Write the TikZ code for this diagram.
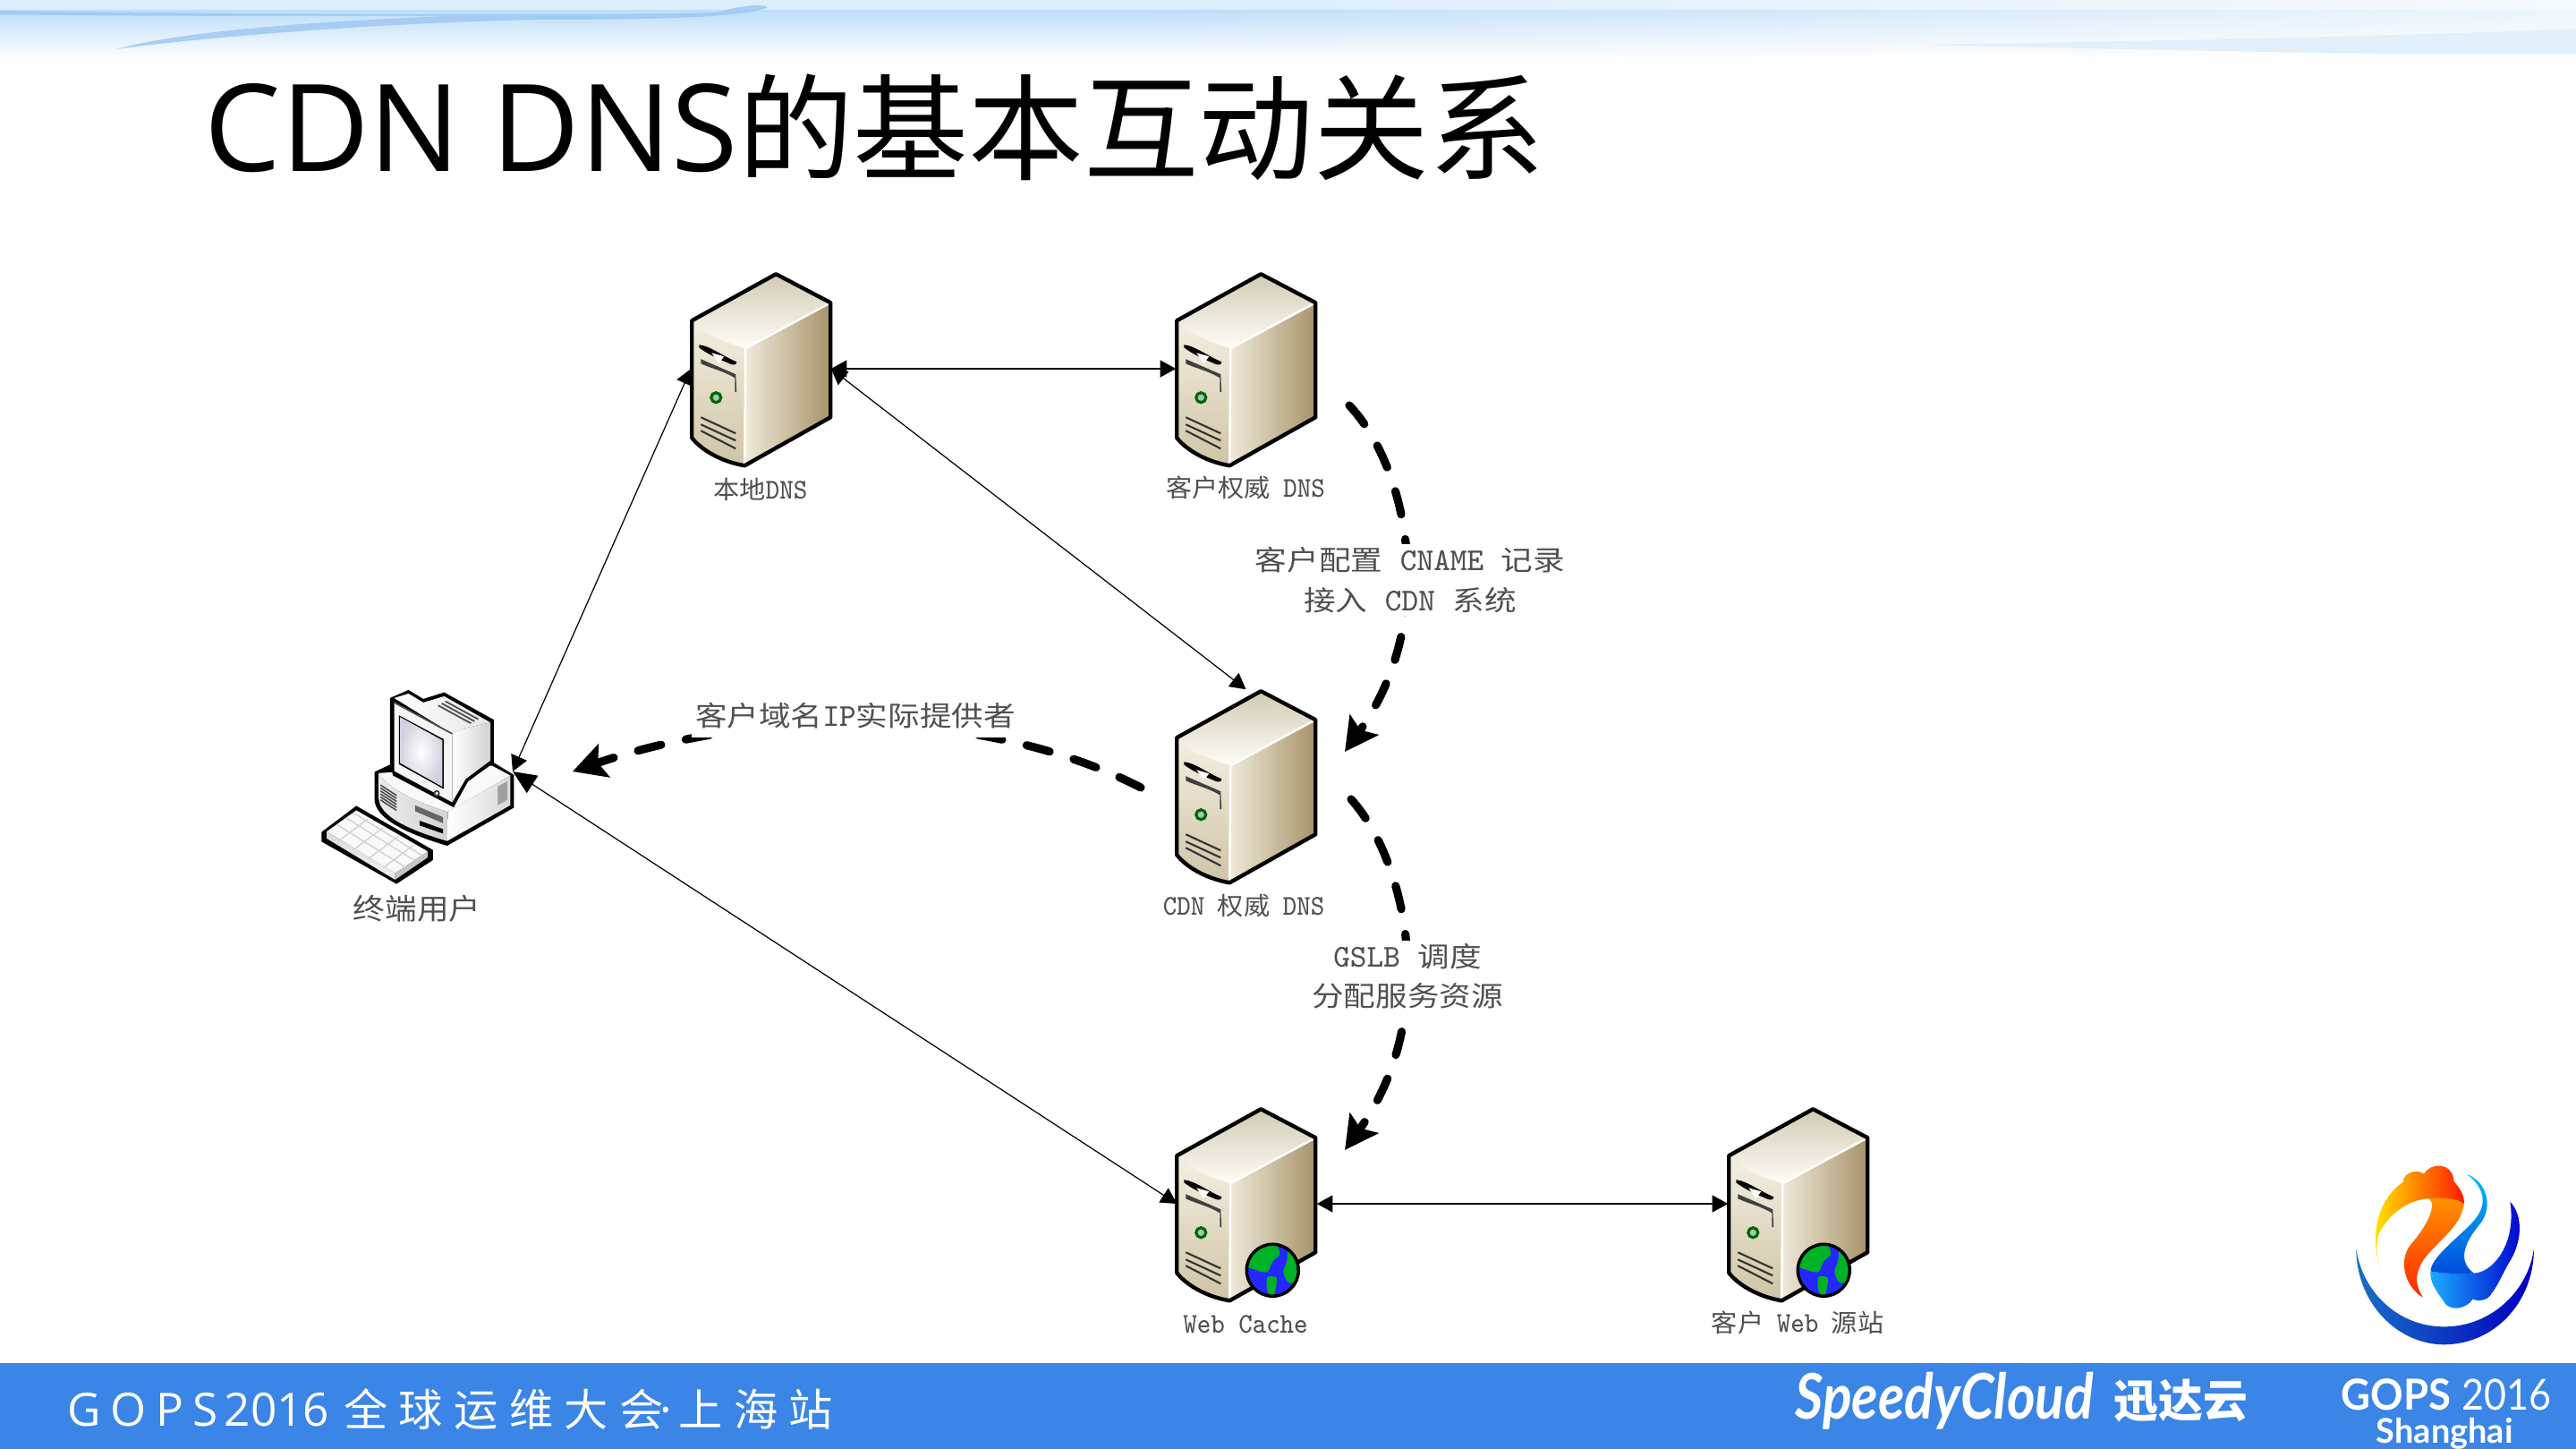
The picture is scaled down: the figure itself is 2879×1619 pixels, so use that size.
\documentclass[tikz,border=0pt]{standalone}
\usepackage{fontspec}
\usetikzlibrary{arrows.meta,shadings,positioning,fadings}
\newfontfamily\cjk{Noto Sans CJK SC}
\newfontfamily\titlelat{Open Sans}
\newfontfamily\latoit{Lato}
\newcommand{\latn}[1]{\scalebox{1}[1.15]{\ttfamily #1}}
\definecolor{footblue}{HTML}{3A85E6}
\definecolor{lbl}{HTML}{505050}
\definecolor{hdrtop}{HTML}{BFDEF9}
\definecolor{hdrstreak}{HTML}{9CC6F2}
\definecolor{hdrwedge}{HTML}{E2F0FB}
\definecolor{topa}{HTML}{FFFDF6}
\definecolor{topb}{HTML}{D2CAB4}
\definecolor{sidea}{HTML}{F0EADA}
\definecolor{sideb}{HTML}{D8CCAF}
\definecolor{sidec}{HTML}{A8936A}
\definecolor{fronta}{HTML}{F4EFE1}
\definecolor{frontb}{HTML}{CFC4A6}
\definecolor{ledc}{HTML}{9FC9B0}
\tikzset{
  srvbox/.style={inner sep=0pt,minimum width=1.55cm,minimum height=2.14cm},
  usrbox/.style={inner sep=0pt,minimum width=2.13cm,minimum height=2.15cm},
  smalllbl/.style={text=lbl,font=\cjk\fontsize{7.9pt}{9pt}\selectfont,inner sep=0pt,xscale=1.05,transform shape},
  biglbl/.style={text=lbl,font=\cjk\fontsize{8.8pt}{12.6pt}\selectfont,align=center,inner xsep=0pt,inner ysep=1pt,xscale=1.15,transform shape},
  thinarrow/.style={draw=black,line width=0.35pt,{Triangle[length=5pt,width=5.4pt]}-{Triangle[length=5pt,width=5.4pt]}},
  userarrow/.style={draw=black,line width=0.35pt,{Triangle[length=7.5pt,width=6.5pt]}-{Triangle[length=5pt,width=5.4pt]}},
  dasharrow/.style={draw=black,line width=2.6pt,line cap=round,dash pattern=on 7.6pt off 8pt,-{Stealth[length=10.5pt,width=11pt,inset=2pt]}},
  srvout/.style={draw=black,line width=1.25pt,line join=round},
  srvpic/.pic={
    \shade[shading angle=45,top color=topb,bottom color=topa] (0,52) -- (94,0) -- (155,32) -- (60,83) .. controls (35,76) and (12,66) .. (0,52) -- cycle;
    \shade[left color=sidea,middle color=sideb,right color=sidec] (60,83) -- (155,32) -- (155,160) -- (59,214) -- cycle;
    \shade[top color=fronta,bottom color=frontb] (0,52) .. controls (12,66) and (35,76) .. (60,83) -- (59,214) .. controls (35,210) and (12,198) .. (0,183) -- cycle;
    \draw[white,line width=0.7pt] (60,83) -- (155,32) (60,83) -- (59,214);
    \draw[srvout] (0,52) -- (94,0) -- (155,32) -- (155,160) -- (59,214) .. controls (35,210) and (12,198) .. (0,183) -- cycle;
    \fill[black] (8,79) .. controls (20,80) and (35,92) .. (50,98) .. controls (50,102) and (46,102) .. (42,100) .. controls (30,95) and (15,88) .. (8,82) -- cycle;
    \fill[white] (22,88) -- (36,92) -- (30,100) -- cycle;
    \fill[black!75] (10,95) -- (49,112) -- (50,132) -- (48,132) -- (48,116) .. controls (35,108) and (20,105) .. (10,100) -- cycle;
    \draw[black!60!green,line width=0.9pt,fill=ledc] (27,138) circle (5.5);
    \draw[black!80,line width=0.6pt] (10,160) -- (49,178) (10,168) -- (49,186) (10,175) -- (49,195);
  },
  globepic/.pic={
    \fill[blue!85!white] (0,0) circle (29);
    \begin{scope}
      \clip (0,0) circle (29);
      \fill[green!65!black!85!cyan] plot[smooth cycle] coordinates {(-29,-6) (-18,-26) (2,-30) (8,-18) (0,-10) (-6,2) (-18,0)};
      \fill[green!65!black!85!cyan] plot[smooth cycle] coordinates {(18,-24) (30,-10) (28,10) (18,14) (12,2) (16,-10)};
      \fill[green!65!black!85!cyan] plot[smooth cycle] coordinates {(-6,8) (4,8) (4,18) (0,30) (-6,22)};
    \end{scope}
    \draw[black,line width=1pt] (0,0) circle (29);
  },
  usrpic/.pic={
    % base
    \fill[black] (236,368) -- (300,338) -- (630,333) -- (704,378) -- (704,488) -- (480,616) .. controls (350,577) and (238,527) .. (236,460) -- cycle;
    \fill[white!95!gray] (250,372) -- (630,347) -- (692,380) -- (482,502) .. controls (380,470) and (290,430) .. (250,372) -- cycle;
    \shade[left color=white!85!gray,right color=white!65!gray] (250,372) .. controls (290,430) and (380,470) .. (482,502) -- (480,600) .. controls (360,565) and (252,520) .. (250,455) -- cycle;
    \shade[left color=white,right color=white!70!gray] (482,502) -- (692,380) -- (692,480) -- (480,600) -- cycle;
    \fill[gray!75] (650,417) -- (682,400) -- (682,462) -- (650,480) -- cycle;
    \draw[black!70,line width=0.45pt] (256,412) -- (310,447) (256,422) -- (310,457) (256,432) -- (310,467) (256,442) -- (310,477) (256,452) -- (310,487) (256,462) -- (310,497);
    \fill[black!60] (372,480) -- (466,520) -- (466,540) -- (372,500) -- cycle;
    \fill[black] (388,532) -- (466,560) -- (466,575) -- (388,548) -- cycle;
    % monitor
    \fill[black] (288,120) -- (350,93) -- (400,123) -- (470,101) -- (637,193) -- (637,337) -- (550,400) -- (502,487) -- (298,380) -- (288,340) -- cycle;
    \shade[left color=white,right color=white!80!gray] (302,120) -- (350,105) -- (400,135) -- (470,114) -- (625,202) -- (535,222) -- (497,240) -- cycle;
    \shade[left color=white,right color=white!65!gray] (497,240) -- (535,222) -- (625,202) -- (625,330) -- (542,392) -- (497,470) -- cycle;
    \fill[white!92!gray] (302,135) -- (497,240) -- (497,470) -- (302,365) -- cycle;
    \draw[black!70,line width=0.5pt] (302,135) -- (497,240);
    \fill[black] (318,178) -- (468,258) -- (468,425) -- (318,342) -- cycle;
    \shade[inner color=white,outer color=blue!18!gray!30] (322,184) -- (464,262) -- (464,418) -- (322,338) -- cycle;
    \draw[black!70,line width=0.5pt] (450,145) -- (560,205) (462,138) -- (572,198) (474,131) -- (584,191);
    \draw[black!75,line width=0.5pt,fill=white!85!gray] (445,440) circle (8);
    % keyboard
    \fill[black] (58,570) -- (175,482) -- (432,630) -- (432,664) -- (310,744) -- (58,602) -- cycle;
    \fill[white!95!gray] (76,568) -- (175,497) -- (415,635) -- (305,708) -- cycle;
    \shade[top color=white!70!gray,bottom color=white!90!gray] (76,568) -- (305,708) -- (305,730) -- (76,592) -- cycle;
    \fill[gray!45] (305,708) -- (415,635) -- (415,655) -- (305,730) -- cycle;
    \draw[gray!35,line width=0.4pt] (110,545) -- (340,688) (140,522) -- (370,665) (165,505) -- (395,648)
      (115,600) -- (215,525) (165,630) -- (265,555) (215,660) -- (315,585) (265,690) -- (365,615);
  }
}
\begin{document}
\begin{tikzpicture}[x=0.01cm,y=-0.01cm]
\useasboundingbox (0,0) rectangle (2879,1619);
\fill[white] (0,0) rectangle (2879,1619);
% header band
\fill[hdrtop!55!white] (0,0) rectangle (2879,12);
\shade[top color=hdrtop,bottom color=white] (0,12) rectangle (2879,66);
\fill[white,path fading=west,opacity=0.75] (1250,0) rectangle (2879,68);
\fill[hdrstreak,opacity=0.8] (0,12) .. controls (300,16) and (650,18) .. (800,14) .. controls (830,6) and (850,4) .. (858,8) .. controls (840,18) and (760,22) .. (600,22) .. controls (400,26) and (200,45) .. (130,55) .. controls (200,35) and (350,24) .. (500,18) .. controls (300,18) and (100,18) .. (0,16) -- cycle;
\fill[hdrwedge] (2150,50) .. controls (2400,46) and (2700,40) .. (2879,32) -- (2879,60) .. controls (2700,62) and (2500,58) .. (2150,50) -- cycle;
% title
\node[anchor=base west,inner sep=0pt] (title) at (228,192) {\fontsize{38.5pt}{40pt}\selectfont\titlelat CDN DNS\cjk\fontsize{36.6pt}{40pt}\selectfont 的基本互动关系};
% footer
\fill[footblue] (0,1523) rectangle (2879,1619);
\node[anchor=base west,inner sep=0pt,text=white,font=\titlelat\fontsize{14.6pt}{16pt}\selectfont] (ftxt) at (75,1593) {G\hspace{3pt}O\hspace{3pt}P\hspace{3pt}S\hspace{2pt}2016\hspace{4.6pt}{\cjk\fontsize{14pt}{16pt}\selectfont\addfontfeature{LetterSpace=25}全球运维大会}\hspace{-1pt}·\hspace{2pt}{\cjk\fontsize{14pt}{16pt}\selectfont\addfontfeature{LetterSpace=25}上海站}};
\node[anchor=base west,inner sep=0pt,text=white,font=\latoit\bfseries\itshape\fontsize{20pt}{22pt}\selectfont,xscale=0.86,transform shape] (speedy) at (2006,1585) {SpeedyCloud};
\node[anchor=base west,inner sep=0pt,text=white,font=\cjk\bfseries\fontsize{14.2pt}{16pt}\selectfont] (xunda) at (2362,1583) {迅达云};
\node[anchor=base west,inner sep=0pt,text=white,font=\latoit\bfseries\fontsize{13.6pt}{15pt}\selectfont,xscale=0.95,transform shape] (gops) at (2616,1575) {GOPS};
\node[anchor=base west,inner sep=0pt,text=white,font=\latoit\fontsize{13.6pt}{15pt}\selectfont,xscale=0.9,transform shape] (year) at (2751,1575) {2016};
\node[anchor=base west,inner sep=0pt,text=white,font=\latoit\bfseries\fontsize{10.8pt}{12pt}\selectfont] (shanghai) at (2655,1612) {Shanghai};
% logo
\begin{scope}[shift={(2600,1280)},x=0.003333cm,y=-0.003333cm]
  \shade[left color=blue!50!cyan!75!black!90,middle color=cyan!70!blue!90,right color=blue!75!black]
    (100,345) .. controls (100,530) and (240,668) .. (395,668) .. controls (560,668) and (697,530) .. (697,345)
    .. controls (680,480) and (560,608) .. (395,608) .. controls (240,608) and (120,490) .. (100,345) -- cycle;
  \shade[left color=yellow!85!orange,middle color=orange!90!yellow,right color=red!80!orange]
    (180,410) .. controls (150,320) and (160,190) .. (258,122) .. controls (255,95) and (300,75) .. (328,95) .. controls (350,55) and (425,55) .. (428,120) .. controls (445,140) and (465,165) .. (462,195)
    .. controls (440,200) and (420,175) .. (345,178) .. controls (270,180) and (200,240) .. (175,300) .. controls (165,340) and (170,380) .. (180,410) -- cycle;
  \shade[top color=orange!85!yellow,bottom color=red!70!orange]
    (345,178) .. controls (400,172) and (440,180) .. (462,195) .. controls (455,260) and (400,300) .. (345,360) .. controls (300,410) and (290,460) .. (325,510)
    .. controls (270,480) and (235,390) .. (285,330) .. controls (330,280) and (375,200) .. (345,178) -- cycle;
  \shade[left color=cyan!65!blue!90,right color=blue!80!black]
    (350,422) .. controls (400,430) and (450,430) .. (495,428) .. controls (550,430) and (640,340) .. (617,188) .. controls (665,240) and (655,330) .. (612,395)
    .. controls (590,435) and (570,480) .. (555,495) .. controls (545,520) and (510,525) .. (492,515) .. controls (470,550) and (410,560) .. (392,520) .. controls (375,495) and (345,460) .. (350,422) -- cycle;
  \shade[top color=cyan!75!blue,bottom color=blue!65!cyan!85!black]
    (470,95) .. controls (540,120) and (565,210) .. (510,270) .. controls (470,320) and (435,385) .. (495,428)
    .. controls (450,432) and (400,430) .. (350,422) .. controls (350,370) and (470,290) .. (505,240) .. controls (545,185) and (520,130) .. (470,95) -- cycle;
\end{scope}
% server boxes
\node[srvbox] (localdns) at (850.5,412) {};
\node[srvbox] (custdns) at (1392.5,412) {};
\node[srvbox] (cdndns) at (1392.5,878) {};
\node[srvbox] (cache) at (1393.5,1345) {};
\node[srvbox] (origin) at (2009.5,1345) {};
\node[usrbox] (user) at (466.5,879.5) {};
\pic at ([shift={(1,2)}]localdns.north west) {srvpic};
\pic at ([shift={(1,2)}]custdns.north west) {srvpic};
\pic at ([shift={(1,2)}]cdndns.north west) {srvpic};
\pic at ([shift={(0,2)}]cache.north west) {srvpic};
\pic at ([shift={(1,2)}]origin.north west) {srvpic};
\pic at ([shift={(107,182)}]cache.north west) {globepic};
\pic at ([shift={(107,182)}]origin.north west) {globepic};
\begin{scope}[shift={(340,740)},x=0.003333cm,y=-0.003333cm]
  \pic at (0,0) {usrpic};
\end{scope}
% connectors
\coordinate (uport) at (573,862);
\draw[thinarrow] (localdns.east) -- (custdns.west);
\draw[thinarrow] (localdns.east) -- (cdndns.north);
\draw[thinarrow] (uport) -- (localdns.west);
\draw[userarrow] (uport) -- (cache.west);
\draw[thinarrow] (cache.east) -- (origin.west);
% dashed
\coordinate (d1a) at (1508,453);
\coordinate (d1b) at (1503,840);
\coordinate (d2a) at (1510,893);
\coordinate (d2b) at (1503,1285);
\coordinate (d3a) at (1275,880);
\coordinate (d3b) at (640,862);
\draw[dasharrow] (d1a) .. controls (1572,520) and (1610,690) .. (d1b);
\draw[dasharrow] (d2a) .. controls (1572,962) and (1610,1135) .. (d2b);
\draw[dasharrow] (d3a) .. controls (1100,790) and (850,790) .. (d3b);
% labels
\node[smalllbl] (l1) at (850,547) {本地\latn{DNS}};
\node[smalllbl] (l2) at (1392,545) {客户权威\hspace{0.5em}\latn{DNS}};
\node[smalllbl] (l3) at (1390,1012) {\latn{CDN}\hspace{0.5em}权威\hspace{0.5em}\latn{DNS}};
\node[smalllbl,font=\cjk\fontsize{9.2pt}{11pt}\selectfont,xscale=1.05] (l4) at (466,1015) {终端用户};
\node[smalllbl] (l5) at (1392,1480) {\latn{Web Cache}};
\node[smalllbl] (l6) at (2009,1478) {客户\hspace{0.5em}\latn{Web}\hspace{0.5em}源站};
\node[biglbl,fill=white] (l7) at (1576,648) {客户配置\hspace{0.55em}\latn{CNAME}\hspace{0.55em}记录\\接入\hspace{0.55em}\latn{CDN}\hspace{0.55em}系统};
\node[biglbl,fill=white] (l8) at (1573,1091) {\latn{GSLB}\hspace{0.55em}调度\\分配服务资源};
\node[biglbl,fill=white,inner ysep=2.6pt,inner xsep=1pt] (l9) at (956,800) {客户域名\latn{IP}实际提供者};
\end{tikzpicture}
\end{document}
